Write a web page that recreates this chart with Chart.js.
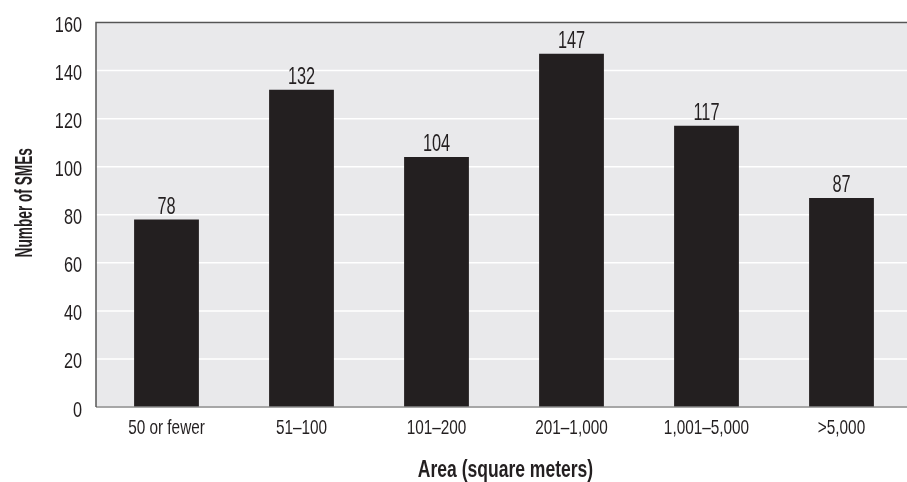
<!DOCTYPE html>
<html>
<head>
<meta charset="utf-8">
<script src="https://cdn.jsdelivr.net/npm/chart.js@4.4.1/dist/chart.umd.min.js"></script>
<style>
  html, body { margin: 0; padding: 0; background: #ffffff; overflow: hidden; }
  #wrap { width: 909px; height: 482px; position: relative; }
</style>
</head>
<body>
<div id="wrap"><canvas id="chart"></canvas></div>
<script>
// SMEs by floor area
const categories = ['50 or fewer', '51\u2013100', '101\u2013200', '201\u20131,000', '1,001\u20135,000', '>5,000'];
const smeCounts = [78, 132, 104, 147, 117, 87];
const yTicks = [0, 20, 40, 60, 80, 100, 120, 140, 160];
const xTitle = 'Area (square meters)';
const yTitle = 'Number of SMEs';

const FONT = '"Liberation Sans", Arial, sans-serif';
const INK = '#231f20';
const GUTTER = 3; // gap between the y-axis line and the first category

// Text drawn horizontally condensed (sx < 1) to get a tall, narrow face
function condensedText(ctx, text, x, y, opts) {
  ctx.save();
  ctx.font = (opts.weight || 'normal') + ' ' + opts.size + 'px ' + FONT;
  ctx.fillStyle = INK;
  ctx.textAlign = opts.align || 'center';
  ctx.textBaseline = 'alphabetic';
  ctx.translate(x, y);
  if (opts.rotate) ctx.rotate(opts.rotate);
  ctx.scale(opts.sx, 1);
  ctx.fillText(text, 0, 0);
  ctx.restore();
}

// Grey plot panel, white gridlines, frame and all axis text
const panelPlugin = {
  id: 'panel',
  beforeDatasetsDraw(chart) {
    const { ctx, chartArea: a, scales } = chart;
    const left = a.left - GUTTER;
    ctx.save();
    ctx.fillStyle = '#e9e9eb';
    ctx.fillRect(left, a.top, a.right - left, a.bottom - a.top);
    ctx.strokeStyle = '#ffffff';
    ctx.lineWidth = 1.5;
    yTicks.forEach(v => {
      const y = scales.y.getPixelForValue(v);
      ctx.beginPath();
      ctx.moveTo(left, y);
      ctx.lineTo(a.right, y);
      ctx.stroke();
    });
    ctx.restore();
  },
  afterDatasetsDraw(chart) {
    const { ctx, chartArea: a, scales } = chart;
    const left = a.left - GUTTER;
    ctx.save();
    ctx.lineWidth = 1.5;
    ctx.strokeStyle = '#8a8a8a';
    ctx.beginPath();
    ctx.moveTo(left, a.bottom);
    ctx.lineTo(a.right, a.bottom);
    ctx.stroke();
    ctx.strokeStyle = '#555555';
    ctx.beginPath();
    ctx.moveTo(left, a.bottom);
    ctx.lineTo(left, a.top);
    ctx.lineTo(a.right, a.top);
    ctx.stroke();
    ctx.restore();

    // y tick labels
    yTicks.forEach(v => {
      condensedText(ctx, String(v), left - 14, scales.y.getPixelForValue(v) + 9.5,
        { size: 22, sx: 0.74, align: 'right' });
    });
    // x tick labels
    categories.forEach((c, i) => {
      condensedText(ctx, c, scales.x.getPixelForValue(i), a.bottom + 27,
        { size: 21, sx: 0.73 });
    });
    // axis titles
    condensedText(ctx, xTitle, (left + a.right) / 2 + 3, a.bottom + 70,
      { size: 24, sx: 0.73, weight: 'bold' });
    condensedText(ctx, yTitle, 32, (a.top + a.bottom) / 2 - 12,
      { size: 24, sx: 0.57, weight: 'bold', rotate: -Math.PI / 2 });

    // value above each bar
    const meta = chart.getDatasetMeta(0);
    meta.data.forEach((bar, i) => {
      condensedText(ctx, String(chart.data.datasets[0].data[i]), bar.x, bar.y - 6,
        { size: 24, sx: 0.68 });
    });
  }
};

new Chart(document.getElementById('chart'), {
  type: 'bar',
  data: {
    labels: categories,
    datasets: [{
      data: smeCounts,
      backgroundColor: INK,
      borderWidth: 0,
      categoryPercentage: 1.0,
      barPercentage: 0.48
    }]
  },
  options: {
    responsive: true,
    maintainAspectRatio: false,
    animation: false,
    layout: { padding: { top: 22.5, right: 0, left: 0, bottom: 0 } },
    plugins: { legend: { display: false }, tooltip: { enabled: false } },
    scales: {
      x: {
        grid: { display: false, drawTicks: false },
        border: { display: false },
        ticks: { display: false },
        afterFit(scale) { scale.height = 75; }
      },
      y: {
        min: 0,
        max: 160,
        afterBuildTicks(scale) { scale.ticks = yTicks.map(v => ({ value: v })); },
        grid: { display: false, drawTicks: false },
        border: { display: false },
        ticks: { display: false },
        afterFit(scale) { scale.width = 96 + GUTTER; }
      }
    }
  },
  plugins: [panelPlugin]
});
</script>
</body>
</html>
